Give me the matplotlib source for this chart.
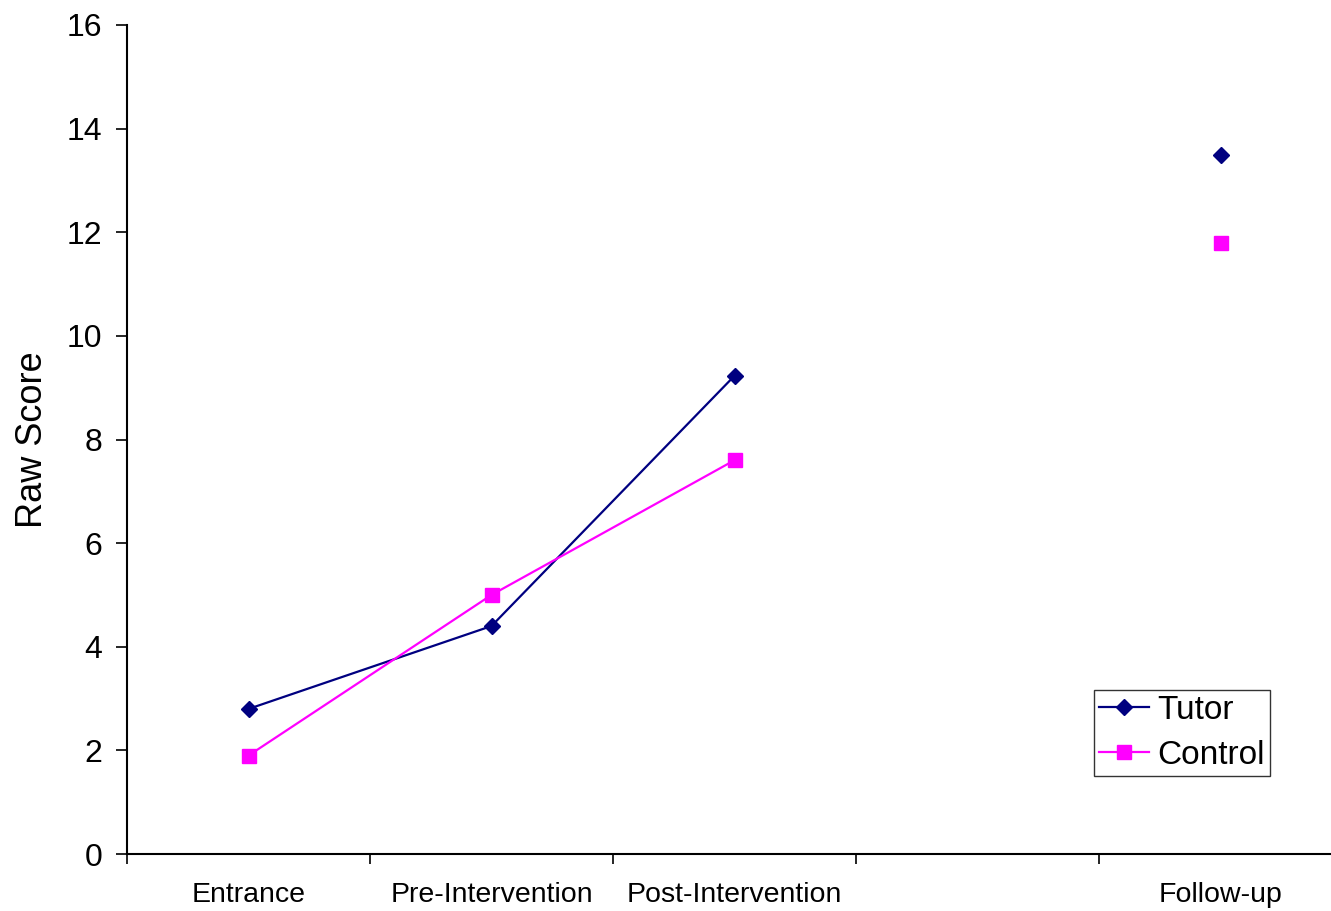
import numpy as np
import matplotlib
matplotlib.use("Agg")
import matplotlib.pyplot as plt
from matplotlib.ticker import FixedLocator, NullFormatter

categories = ["Entrance", "Pre-Intervention", "Post-Intervention", "", "Follow-up"]
tutor = [2.8, 4.4, 9.23, np.nan, 13.5]
control = [1.9, 5.0, 7.6, np.nan, 11.8]

plt.rcParams['font.family'] = ['Liberation Sans', 'DejaVu Sans']

W, H = 1331, 911
x0, x1, y0, y1 = 127, 1342, 854, 25
fig = plt.figure(figsize=(W/100, H/100), dpi=100)
ax = fig.add_axes([x0/W, 1-y0/H, (x1-x0)/W, (y0-y1)/H])

x = np.arange(len(categories))
ax.plot(x, tutor, color="#000080", marker="D", markersize=8.5, linewidth=1.6, label="Tutor")
ax.plot(x, control, color="#FF00FF", marker="s", markersize=9.5, linewidth=1.6, label="Control")

ax.set_xlim(-0.5, len(categories) - 0.5)
ax.set_ylim(0, 16)
ax.set_yticks(np.arange(0, 17, 2))
ax.tick_params(axis='y', labelsize=23, length=8, width=1.2, direction='out', pad=10)

ax.set_xticks(x)
ax.set_xticklabels(categories, fontsize=20.5)
ax.tick_params(axis='x', which='major', length=0, pad=20)
ax.xaxis.set_minor_locator(FixedLocator(np.arange(-0.5, len(categories), 1.0)))
ax.xaxis.set_minor_formatter(NullFormatter())
ax.tick_params(axis='x', which='minor', length=7, width=1.2, direction='out')

for s in ['top', 'right']:
    ax.spines[s].set_visible(False)
for s in ['left', 'bottom']:
    ax.spines[s].set_linewidth(1.5)

ax.set_ylabel("Raw Score", fontsize=26, labelpad=12)

leg = ax.legend(loc='lower left', bbox_to_anchor=((1094-x0)/(x1-x0), (y0-776)/(y0-y1)),
                fontsize=24, frameon=True, fancybox=False, edgecolor='black',
                borderpad=0.15, handlelength=1.5, handletextpad=0.25, labelspacing=0.42,
                borderaxespad=0)
leg.get_frame().set_linewidth(1.0)

fig.savefig("out.png", dpi=100)
